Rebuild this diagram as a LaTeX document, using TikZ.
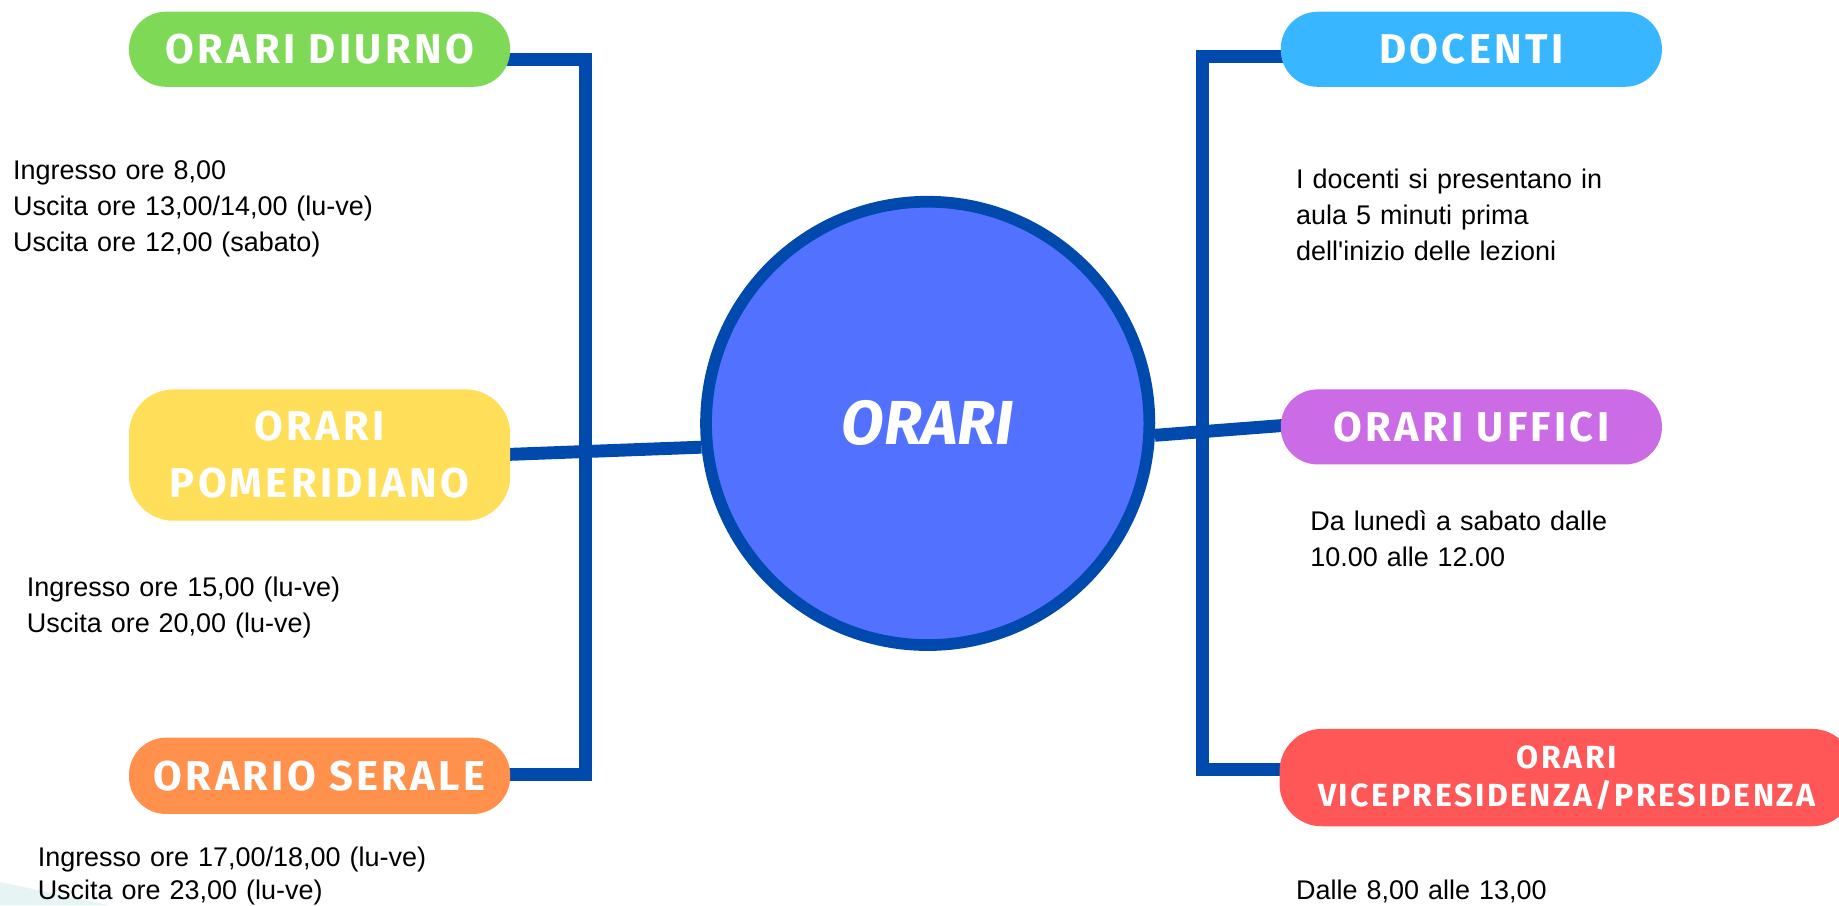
\documentclass[tikz,border=0pt]{standalone}
\usepackage{fontspec}
\usetikzlibrary{backgrounds}
\setmainfont{Liberation Sans}[Ligatures=TeXOff]
\newfontfamily\headfont{Fira Sans}[LetterSpace=8]
\newfontfamily\circfont{Fira Sans}
\definecolor{cblue}{HTML}{004AAD}
\definecolor{cfill}{HTML}{5271FF}
\definecolor{cgreen}{HTML}{7ED957}
\definecolor{cyellow}{HTML}{FFDE59}
\definecolor{corange}{HTML}{FF914D}
\definecolor{clight}{HTML}{38B6FF}
\definecolor{cpurple}{HTML}{CB6CE6}
\definecolor{cred}{HTML}{FF5757}
\definecolor{cfaint}{HTML}{E6F4F3}
\begin{document}
\begin{tikzpicture}[x=1pt,y=-1pt,
  pill/.style={rectangle, rounded corners=31.5pt, minimum width=325pt, minimum height=64pt,
    inner sep=0pt, text=white, align=center,
    font=\headfont\bfseries\fontsize{35.5}{48.6}\selectfont},
  body/.style={anchor=base west, inner sep=0pt, text width=420pt, align=left,
    font=\fontsize{23}{30.7}\selectfont},
  conn/.style={draw=cblue, line width=11pt, line join=miter}]
\useasboundingbox (0,0) rectangle (1568,772);

% centre
\node[circle, draw=cblue, line width=10pt, fill=cfill, minimum size=378pt, inner sep=0pt,
  text=white, font=\circfont\bfseries\itshape\fontsize{53}{53}\selectfont] (circ) at (791,361) {ORARI};

% pills
\node[pill, fill=cgreen] (diurno) at (272.5,42) {ORARI DIURNO};
\node[pill, fill=cyellow, minimum height=112pt, rounded corners=38pt] (pom) at (272.5,388) {ORARI\\POMERIDIANO};
\node[pill, fill=corange, minimum height=65pt] (serale) at (272.5,661.5) {ORARIO SERALE};
\node[pill, fill=clight] (docenti) at (1254.5,42) {DOCENTI};
\node[pill, fill=cpurple] (uffici) at (1254.5,364) {ORARI UFFICI};
\node[pill, fill=cred, minimum width=490pt, minimum height=83pt, rounded corners=36pt,
   font=\headfont\bfseries\fontsize{27.3}{32.6}\selectfont] (vice) at (1336,663) {ORARI\\VICEPRESIDENZA/PRESIDENZA};

\coordinate (L1) at (499,51);
\coordinate (L2) at (499,660);
\coordinate (R1) at (1025,48);
\coordinate (R2) at (1025,656);
\coordinate (P1) at (432,387.5);
\coordinate (U1) at (1100,362.3);

\begin{scope}[on background layer]
  \fill[cfaint] (0,752) -- (94,772) -- (0,772) -- cycle;
  \draw[conn] (diurno.center |- L1) -- (L1) -- (L2) -- (serale.center |- L2);
  \draw[conn] (docenti.center |- R1) -- (R1) -- (R2) -- (vice.center |- R2);
  \draw[conn] (P1) -- (circ.186);
  \draw[conn] (circ.-3) -- (U1);
\end{scope}

% texts
\node[body] (t1) at (11,153) {Ingresso ore 8,00\\Uscita ore 13,00/14,00 (lu-ve)\\Uscita ore 12,00 (sabato)};
\node[body] (t2) at (22.7,509) {Ingresso ore 15,00 (lu-ve)\\Uscita ore 20,00 (lu-ve)};
\node[body, font=\fontsize{23}{28.5}\selectfont] (t3) at (32,738.5) {Ingresso ore 17,00/18,00 (lu-ve)\\Uscita ore 23,00 (lu-ve)};
\node[body] (t4) at (1105,161) {I docenti si presentano in\\aula 5 minuti prima\\dell'inizio delle lezioni};
\node[body] (t5) at (1117,452) {Da lunedì a sabato dalle\\10.00 alle 12.00};
\node[body] (t6) at (1105,766.6) {Dalle 8,00 alle 13,00};
\end{tikzpicture}
\end{document}
